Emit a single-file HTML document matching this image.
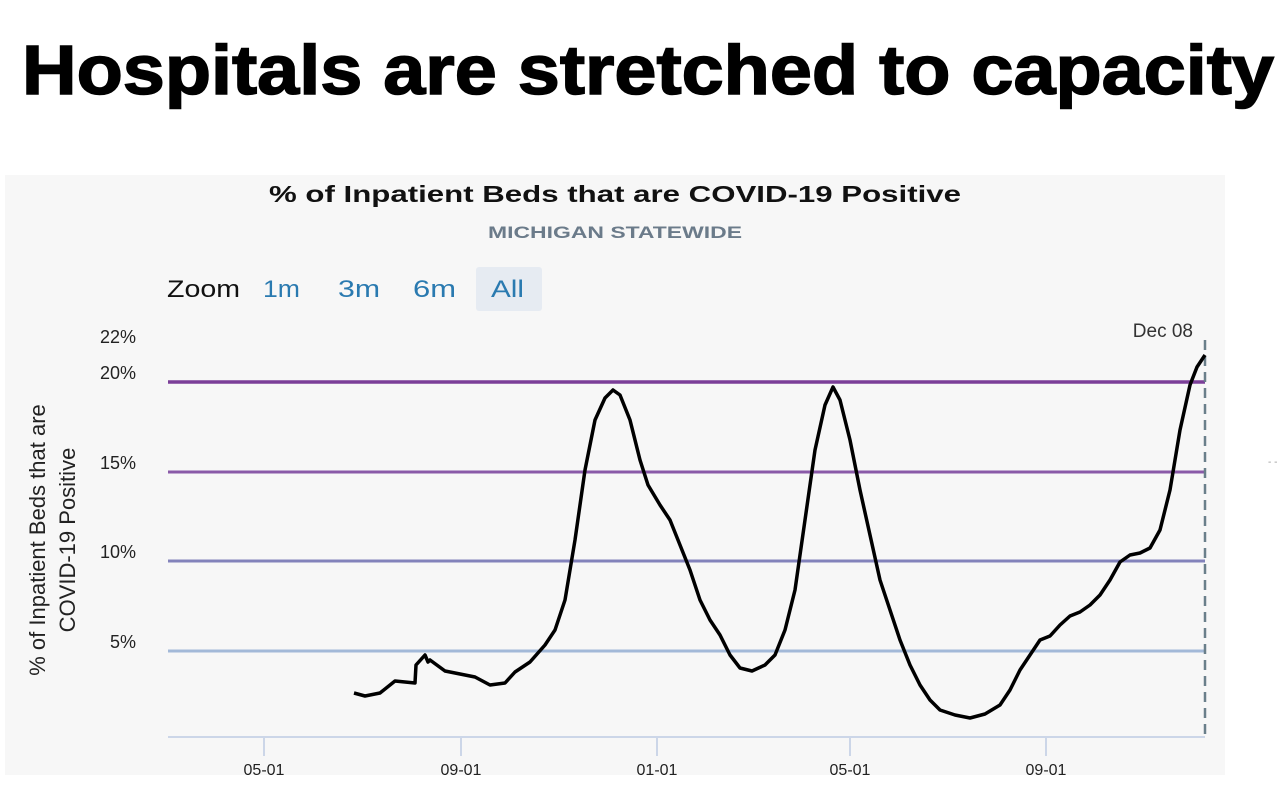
<!DOCTYPE html>
<html><head><meta charset="utf-8"><style>
html,body{margin:0;padding:0;background:#fff;}
svg{display:block;font-family:"Liberation Sans",sans-serif;}
</style></head><body>
<svg width="1280" height="796" viewBox="0 0 1280 796" xmlns="http://www.w3.org/2000/svg">
<rect width="1280" height="796" fill="#fff"/>
<text x="22" y="94" font-size="70" font-weight="bold" fill="#000" stroke="#000" stroke-width="1.5" textLength="1252" lengthAdjust="spacingAndGlyphs">Hospitals are stretched to capacity</text>
<rect x="5" y="175" width="1220" height="600" fill="#f7f7f7"/>
<text x="615" y="202" font-size="23" font-weight="bold" text-anchor="middle" fill="#111" textLength="692" lengthAdjust="spacingAndGlyphs">% of Inpatient Beds that are COVID-19 Positive</text>
<text x="615" y="238" font-size="17" font-weight="bold" text-anchor="middle" fill="#6b7b8a" textLength="254" lengthAdjust="spacingAndGlyphs">MICHIGAN STATEWIDE</text>
<rect x="476" y="267" width="66" height="44" rx="3" fill="#e6ebf2"/>
<text x="167" y="297" font-size="24" fill="#111" textLength="73" lengthAdjust="spacingAndGlyphs">Zoom</text>
<text x="263" y="297" font-size="24" fill="#2a7ab0" textLength="37" lengthAdjust="spacingAndGlyphs">1m</text>
<text x="338" y="297" font-size="24" fill="#2a7ab0" textLength="42" lengthAdjust="spacingAndGlyphs">3m</text>
<text x="413" y="297" font-size="24" fill="#2a7ab0" textLength="43" lengthAdjust="spacingAndGlyphs">6m</text>
<text x="491" y="297" font-size="24" fill="#2a7ab0" textLength="33" lengthAdjust="spacingAndGlyphs">All</text>
<g font-size="18" fill="#222" text-anchor="end">
<text x="136" y="343">22%</text>
<text x="136" y="379">20%</text>
<text x="136" y="469">15%</text>
<text x="136" y="558">10%</text>
<text x="136" y="648">5%</text>
</g>
<g transform="translate(45,540) rotate(-90)" font-size="22" fill="#222" text-anchor="middle">
<text x="0" y="0">% of Inpatient Beds that are</text>
<text x="0" y="30">COVID-19 Positive</text>
</g>
<line x1="168" y1="382" x2="1205" y2="382" stroke="#7b3f98" stroke-width="3.5"/>
<line x1="168" y1="472" x2="1205" y2="472" stroke="#8a5aa8" stroke-width="3"/>
<line x1="168" y1="561" x2="1205" y2="561" stroke="#8383bb" stroke-width="3"/>
<line x1="168" y1="651" x2="1205" y2="651" stroke="#a3b9d8" stroke-width="3"/>
<line x1="168" y1="737" x2="1205" y2="737" stroke="#ccd6e8" stroke-width="2"/>
<g stroke="#ccd6e8" stroke-width="2">
<line x1="264" y1="737" x2="264" y2="756"/><line x1="461" y1="737" x2="461" y2="756"/>
<line x1="657" y1="737" x2="657" y2="756"/><line x1="850" y1="737" x2="850" y2="756"/>
<line x1="1046" y1="737" x2="1046" y2="756"/>
</g>
<g font-size="16" fill="#222" text-anchor="middle">
<text x="264" y="775">05-01</text><text x="461" y="775">09-01</text>
<text x="657" y="775">01-01</text><text x="850" y="775">05-01</text>
<text x="1046" y="775">09-01</text>
</g>
<line x1="1205" y1="340" x2="1205" y2="740" stroke="#6a7f8a" stroke-width="2.5" stroke-dasharray="10,6"/>
<text x="1193" y="337" font-size="19" fill="#333" text-anchor="end">Dec 08</text>
<polyline fill="none" stroke="#000" stroke-width="3.5" stroke-linejoin="round" points="354,693 365,696 380,693 395,681 405,682 415,683 416,665 425,655 428,662 430,660 445,671 460,674 475,677 490,685 505,683 515,672 530,662 545,645 555,630 565,600 575,540 585,470 595,420 605,398 613,390 620,395 630,420 640,460 648,485 660,505 670,520 680,545 690,570 700,600 710,620 720,635 730,655 740,668 752,671 765,665 775,655 785,630 795,590 805,520 815,450 825,405 833,387 840,400 850,440 860,490 870,535 880,580 890,610 900,640 910,665 920,685 930,700 940,710 955,715 970,718 985,714 1000,705 1010,690 1020,670 1030,655 1040,640 1050,636 1060,625 1070,616 1080,612 1090,605 1100,595 1110,580 1120,562 1130,555 1140,553 1150,548 1160,530 1170,490 1180,430 1190,385 1197,367 1205,355"/>
<text x="1268" y="465" font-size="10" fill="#999">- -</text>
</svg>
</body></html>
